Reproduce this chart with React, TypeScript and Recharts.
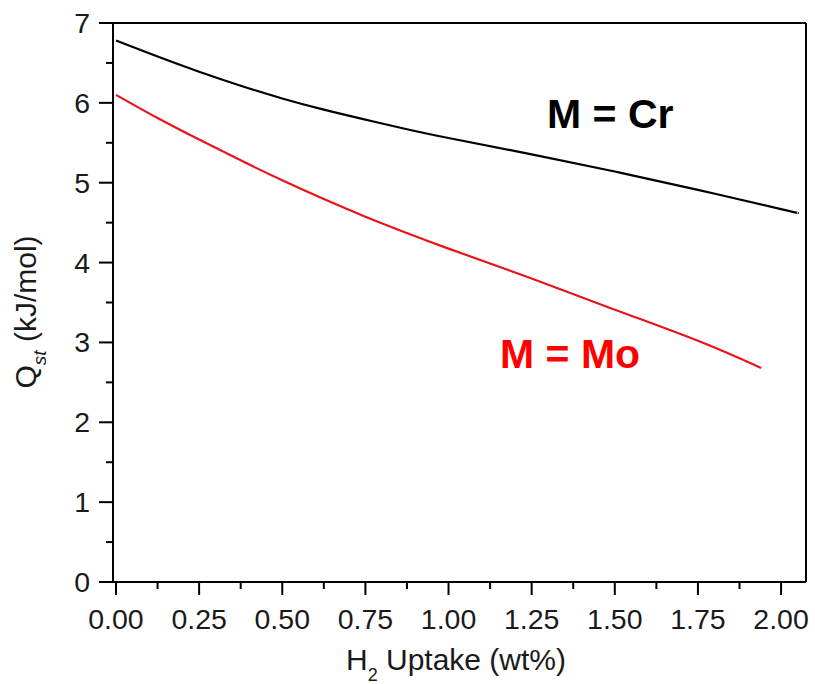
import { Line, LineChart, ReferenceLine, XAxis, YAxis } from "recharts";

// H2 uptake (wt%) and isosteric heat Qst (kJ/mol)
const CR_UPTAKE = [0, 0.125, 0.25, 0.375, 0.5, 0.625, 0.75, 0.875, 1.0, 1.25, 1.5, 1.75, 2.0, 2.05];
const CR_QST = [6.78, 6.58, 6.39, 6.215, 6.055, 5.915, 5.79, 5.67, 5.56, 5.355, 5.14, 4.91, 4.67, 4.62];

const MO_UPTAKE = [0, 0.125, 0.25, 0.375, 0.5, 0.625, 0.75, 0.875, 1.0, 1.25, 1.5, 1.75, 1.94];
const MO_QST = [6.1, 5.81, 5.54, 5.28, 5.03, 4.795, 4.575, 4.37, 4.175, 3.8, 3.41, 3.02, 2.68];

const X_TICKS = [0, 0.125, 0.25, 0.375, 0.5, 0.625, 0.75, 0.875, 1, 1.125, 1.25, 1.375, 1.5, 1.625, 1.75, 1.875, 2];
const Y_TICKS = [0, 0.5, 1, 1.5, 2, 2.5, 3, 3.5, 4, 4.5, 5, 5.5, 6, 6.5, 7];

const X_MIN = -0.009;
const X_MAX = 2.075;

const crData = CR_UPTAKE.map((x, i) => ({ x, q: CR_QST[i] }));
const moData = MO_UPTAKE.map((x, i) => ({ x, q: MO_QST[i] }));

const FONT = '"Liberation Sans", Arial, sans-serif';
const TEXT = "#1a1a1a";

function XTick(props: any) {
  const { x, y, payload } = props;
  const v = payload.value as number;
  const major = Math.abs(v * 4 - Math.round(v * 4)) < 1e-6;
  return (
    <g>
      <line x1={x} x2={x} y1={y} y2={y + (major ? 13 : 7)} stroke="#000" strokeWidth={2} />
      {major && (
        <text x={x} y={y + 47} textAnchor="middle" fontSize={28.5} fontFamily={FONT} fill={TEXT}>
          {v.toFixed(2)}
        </text>
      )}
    </g>
  );
}

function YTick(props: any) {
  const { x, y, payload } = props;
  const v = payload.value as number;
  const major = Number.isInteger(v);
  return (
    <g>
      <line x1={x} x2={x - (major ? 14 : 7)} y1={y} y2={y} stroke="#000" strokeWidth={2} />
      {major && (
        <text x={x - 23} y={y + 10} textAnchor="end" fontSize={28.5} fontFamily={FONT} fill={TEXT}>
          {v}
        </text>
      )}
    </g>
  );
}

export default function App() {
  return (
    <div style={{ position: "absolute", left: 0, top: 0, width: 815, height: 684, background: "#fff" }}>
      <LineChart width={815} height={684} margin={{ top: 23, right: 9, left: 0, bottom: 0 }}>
        <XAxis
          dataKey="x"
          type="number"
          domain={[X_MIN, X_MAX]}
          ticks={X_TICKS}
          interval={0}
          height={102}
          tickSize={0}
          tickMargin={0}
          tick={<XTick />}
          tickLine={false}
          axisLine={{ stroke: "#000", strokeWidth: 2 }}
        />
        <YAxis
          type="number"
          domain={[0, 7]}
          ticks={Y_TICKS}
          interval={0}
          width={113}
          tickSize={0}
          tickMargin={0}
          tick={<YTick />}
          tickLine={false}
          axisLine={{ stroke: "#000", strokeWidth: 2 }}
        />
        <ReferenceLine y={7} stroke="#000" strokeWidth={2} />
        <ReferenceLine x={X_MAX} stroke="#000" strokeWidth={2} />
        <Line
          data={crData}
          dataKey="q"
          type="natural"
          stroke="#000"
          strokeWidth={2.2}
          dot={false}
          isAnimationActive={false}
        />
        <Line
          data={moData}
          dataKey="q"
          type="natural"
          stroke="#e8141a"
          strokeWidth={2.2}
          dot={false}
          isAnimationActive={false}
        />
      </LineChart>
      <svg
        width={815}
        height={684}
        style={{ position: "absolute", left: 0, top: 0, pointerEvents: "none" }}
        fontFamily={FONT}
      >
        <text x={456} y={670} textAnchor="middle" fontSize={30} fill={TEXT}>
          H<tspan fontSize={18} dy={11}>2</tspan>
          <tspan dy={-11}> Uptake (wt%)</tspan>
        </text>
        <text x={36} y={312} textAnchor="middle" fontSize={30} fill={TEXT} transform="rotate(-90 36 312)">
          Q<tspan fontSize={19} fontStyle="italic" dy={10}>st</tspan>
          <tspan dy={-10}> (kJ/mol)</tspan>
        </text>
        <text x={547} y={128} fontSize={41} fontWeight="bold" fill="#000">
          M = Cr
        </text>
        <text x={500} y={368} fontSize={41} fontWeight="bold" fill="#ff0000">
          M = Mo
        </text>
      </svg>
    </div>
  );
}
